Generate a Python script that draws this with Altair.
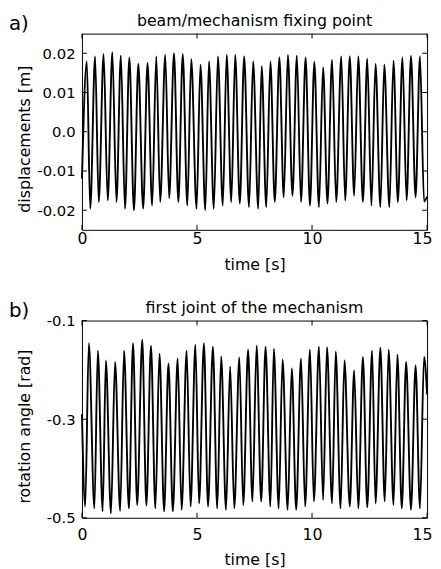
import altair as alt
import pandas as pd

FONT = "DejaVu Sans"

# ---------------- panel a) beam/mechanism fixing point ----------------
a_peak_t = [0.21, 0.57, 0.94, 1.32, 1.69, 2.06, 2.45, 2.85, 3.23, 3.62,
            4.00, 4.38, 4.75, 5.15, 5.52, 5.91, 6.29, 6.66, 7.05, 7.44,
            7.81, 8.19, 8.58, 8.95, 9.34, 9.72, 10.10, 10.48, 10.87, 11.27,
            11.64, 12.01, 12.40, 12.76, 13.14, 13.54, 13.93, 14.30, 14.69]
a_peak_v = [0.0179, 0.0192, 0.0198, 0.0203, 0.0194, 0.0189, 0.0173, 0.0175, 0.0192, 0.0196,
            0.0200, 0.0198, 0.0185, 0.0171, 0.0179, 0.0192, 0.0196, 0.0196, 0.0192, 0.0179,
            0.0167, 0.0179, 0.0189, 0.0196, 0.0194, 0.0189, 0.0178, 0.0164, 0.0183, 0.0192,
            0.0192, 0.0192, 0.0186, 0.0173, 0.0171, 0.0181, 0.0189, 0.0193, 0.0192]
a_trough_t = [0.36, 0.73, 1.12, 1.50, 1.87, 2.26, 2.66, 3.05, 3.40, 3.79,
              4.19, 4.58, 4.98, 5.36, 5.73, 6.12, 6.49, 6.86, 7.26, 7.66,
              8.01, 8.38, 8.77, 9.15, 9.52, 9.91, 10.30, 10.67, 11.05, 11.44,
              11.83, 12.21, 12.58, 12.97, 13.36, 13.73, 14.11, 14.50, 14.87]
a_trough_v = [-0.0196, -0.0179, -0.0175, -0.0179, -0.0196, -0.0200, -0.0196, -0.0188, -0.0179, -0.0169,
              -0.0179, -0.0188, -0.0196, -0.0200, -0.0196, -0.0188, -0.0179, -0.0183, -0.0192, -0.0196,
              -0.0192, -0.0179, -0.0167, -0.0163, -0.0179, -0.0188, -0.0192, -0.0183, -0.0179, -0.0175,
              -0.0163, -0.0179, -0.0188, -0.0192, -0.0192, -0.0179, -0.0175, -0.0167, -0.0178]
a_ends_t = [0.0, 15.0]
a_ends_v = [-0.012, -0.0165]

# ---------------- panel b) first joint of the mechanism ----------------
b_peak_t = [0.30, 0.69, 1.04, 1.44, 1.83, 2.22, 2.62, 3.00, 3.37, 3.76,
            4.16, 4.55, 4.93, 5.30, 5.69, 6.05, 6.44, 6.84, 7.22, 7.59,
            7.98, 8.34, 8.72, 9.12, 9.52, 9.91, 10.30, 10.65, 11.03, 11.41,
            11.83, 12.21, 12.61, 12.97, 13.33, 13.71, 14.09, 14.50, 14.87]
b_peak_v = [-0.146, -0.161, -0.181, -0.184, -0.161, -0.146, -0.139, -0.151, -0.167, -0.187,
            -0.177, -0.161, -0.149, -0.146, -0.153, -0.173, -0.193, -0.175, -0.159, -0.151,
            -0.153, -0.157, -0.179, -0.197, -0.177, -0.159, -0.153, -0.154, -0.163, -0.181,
            -0.201, -0.174, -0.161, -0.155, -0.159, -0.169, -0.184, -0.191, -0.174]
b_trough_t = [0.14, 0.54, 0.90, 1.26, 1.66, 2.04, 2.40, 2.80, 3.19, 3.57,
              3.95, 4.33, 4.72, 5.09, 5.48, 5.88, 6.26, 6.62, 7.01, 7.41,
              7.79, 8.19, 8.55, 8.94, 9.31, 9.70, 10.08, 10.48, 10.87, 11.24,
              11.64, 12.01, 12.40, 12.76, 13.16, 13.54, 13.90, 14.30, 14.69]
b_trough_v = [-0.477, -0.481, -0.487, -0.491, -0.486, -0.481, -0.474, -0.475, -0.481, -0.487,
              -0.487, -0.484, -0.477, -0.471, -0.477, -0.481, -0.484, -0.481, -0.474, -0.467,
              -0.467, -0.477, -0.481, -0.484, -0.484, -0.477, -0.467, -0.464, -0.471, -0.481,
              -0.477, -0.481, -0.479, -0.471, -0.467, -0.474, -0.481, -0.484, -0.481]
b_ends_t = [0.0, 15.0]
b_ends_v = [-0.29, -0.25]

x_ticks = [0, 5, 10, 15]
a_y_ticks = [-0.02, -0.01, 0.0, 0.01, 0.02]
b_y_ticks = [-0.5, -0.3, -0.1]

W = 350


def series(pt, pv, tt, tv, et, ev):
    df = pd.DataFrame({"t": pt + tt + et, "v": pv + tv + ev})
    return df.sort_values("t").reset_index(drop=True)


def panel(df, title, letter, y_dom, y_ticks, y_title, label_expr, h, xpad, xtpad):
    xs = alt.Scale(domain=[0, 15], nice=False, zero=False)
    ys = alt.Scale(domain=y_dom, nice=False, zero=False)
    xax = alt.Axis(values=x_ticks, format="d", title="time [s]",
                   labelFlush=True, labelFlushOffset=5,
                   labelFontSize=16, labelPadding=xpad, titlePadding=xtpad)
    yax = alt.Axis(values=y_ticks, labelExpr=label_expr, title=y_title,
                   titleY=h / 2 + 7)
    xe = alt.X("t:Q", scale=xs, axis=xax)
    ye = alt.Y("v:Q", scale=ys, axis=yax)

    line = alt.Chart(df).mark_line(color="black", strokeWidth=1.9,
                                   interpolate="monotone").encode(x=xe, y=ye)
    ydf = pd.DataFrame({"v": y_ticks})
    xdf = pd.DataFrame({"t": x_ticks})
    tl = alt.Chart(ydf).mark_rule(color="black").encode(y=ye, x=alt.value(0), x2=alt.value(5))
    tr = alt.Chart(ydf).mark_rule(color="black").encode(y=ye, x=alt.value(W - 5), x2=alt.value(W))
    tb = alt.Chart(xdf).mark_rule(color="black").encode(x=xe, y=alt.value(h), y2=alt.value(h - 5))
    tt = alt.Chart(xdf).mark_rule(color="black").encode(x=xe, y=alt.value(0), y2=alt.value(5))
    txt = pd.DataFrame({"lab": [letter], "ttl": [title]})
    lab = alt.Chart(txt).mark_text(
        align="left", baseline="middle", fontSize=20, font=FONT, color="black"
    ).encode(text="lab:N", x=alt.value(-74), y=alt.value(-10))
    ttl = alt.Chart(txt).mark_text(
        align="center", baseline="middle", fontSize=16, font=FONT, color="black"
    ).encode(text="ttl:N", x=alt.value(W / 2), y=alt.value(-13))
    return alt.layer(line, tl, tr, tb, tt, lab, ttl).properties(width=W, height=h)


df_a = series(a_peak_t, a_peak_v, a_trough_t, a_trough_v, a_ends_t, a_ends_v)
df_b = series(b_peak_t, b_peak_v, b_trough_t, b_trough_v, b_ends_t, b_ends_v)

expr_a = ("datum.value == 0 ? '0.0' : (datum.value < 0 ? '-' + format(-datum.value, '.2f')"
          " : format(datum.value, '.2f'))")
expr_b = "'-' + format(-datum.value, '.1f')"

pa = panel(df_a, "beam/mechanism fixing point", "a)", [-0.025, 0.025], a_y_ticks,
           "displacements [m]", expr_a, 199, 1, 10)
pb = panel(df_b, "first joint of the mechanism", "b)", [-0.5, -0.1], b_y_ticks,
           "rotation angle [rad]", expr_b, 200, 9, 9)

chart = alt.vconcat(pa, pb, spacing=26).properties(
    padding={"left": 0, "top": 0, "right": 0, "bottom": 0},
    background="white",
).configure_view(stroke="black", strokeWidth=1).configure_axis(
    domain=False, ticks=False, tickSize=0, grid=False,
    labelFont=FONT, labelFontSize=15, labelColor="black",
    titleFont=FONT, titleFontSize=16, titleColor="black", titleFontWeight="normal",
).configure_axisY(
    labelPadding=7, minExtent=46, maxExtent=46, titlePadding=4,
)

chart.save("out.html", embed_options={"renderer": "svg", "actions": False})
